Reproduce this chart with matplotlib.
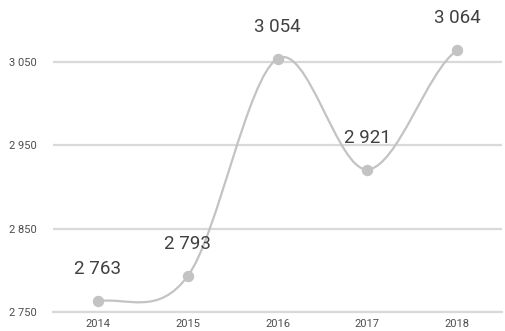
import matplotlib
matplotlib.use("Agg")
import matplotlib.pyplot as plt
import numpy as np
from matplotlib.path import Path
from matplotlib.patches import PathPatch

years = ["2014", "2015", "2016", "2017", "2018"]
values = [2763, 2793, 3054, 2921, 3064]
y_ticks = [2750, 2850, 2950, 3050]

def fmt(v):
    return f"{v:,}".replace(",", " ")

plt.rcParams['font.family'] = ['Roboto', 'DejaVu Sans']

W, H = 506, 331
fig = plt.figure(figsize=(W / 100, H / 100), dpi=100)
ax = fig.add_axes([53 / W, (H - 312) / H, 449 / W, 312 / H])

x = np.arange(len(values), dtype=float)
y = np.array(values, dtype=float)

# Cardinal (Catmull-Rom) smooth path via cubic Bezier segments
n = len(x)
tang = np.zeros(n)
for i in range(1, n - 1):
    tang[i] = (y[i + 1] - y[i - 1]) / (x[i + 1] - x[i - 1])
tang[0] = (y[1] - y[0]) / 2
tang[-1] = (y[-1] - y[-2]) / 2
verts = [(x[0], y[0])]
codes = [Path.MOVETO]
for i in range(n - 1):
    dx = x[i + 1] - x[i]
    verts += [(x[i] + dx / 3, y[i] + tang[i] * dx / 3),
              (x[i + 1] - dx / 3, y[i + 1] - tang[i + 1] * dx / 3),
              (x[i + 1], y[i + 1])]
    codes += [Path.CURVE4] * 3
patch = PathPatch(Path(verts, codes), facecolor='none', edgecolor='#c3c3c3',
                  linewidth=1.6, zorder=3, capstyle='round')
ax.add_patch(patch)
ax.plot(x, y, linestyle='none', marker='o', markersize=7.2,
        color='#c3c3c3', zorder=4)

for xi, yi in zip(x, values):
    ax.annotate(fmt(yi), (xi, yi), xytext=(0, 23), textcoords='offset points',
                ha='center', va='center', fontsize=13.5, color='#404040')

ax.set_xlim(-0.5, 4.5)
ax.set_ylim(2750, 2750 + 312 / (250 / 300))
ax.set_yticks(y_ticks)
ax.set_yticklabels([fmt(v) for v in y_ticks])
ax.set_xticks(x)
ax.set_xticklabels(years)
ax.tick_params(axis='both', length=0, labelsize=8, labelcolor='#4d4d4d')
ax.tick_params(axis='y', pad=11.5)
ax.tick_params(axis='x', pad=5)
ax.grid(axis='y', color='#d9d9d9', linewidth=1.6)
ax.set_axisbelow(True)
for s in ['top', 'right', 'left']:
    ax.spines[s].set_visible(False)
ax.spines['bottom'].set_color('#d9d9d9')
ax.spines['bottom'].set_linewidth(1.6)
ax.set_facecolor('none')

fig.savefig("out.png", dpi=100)
